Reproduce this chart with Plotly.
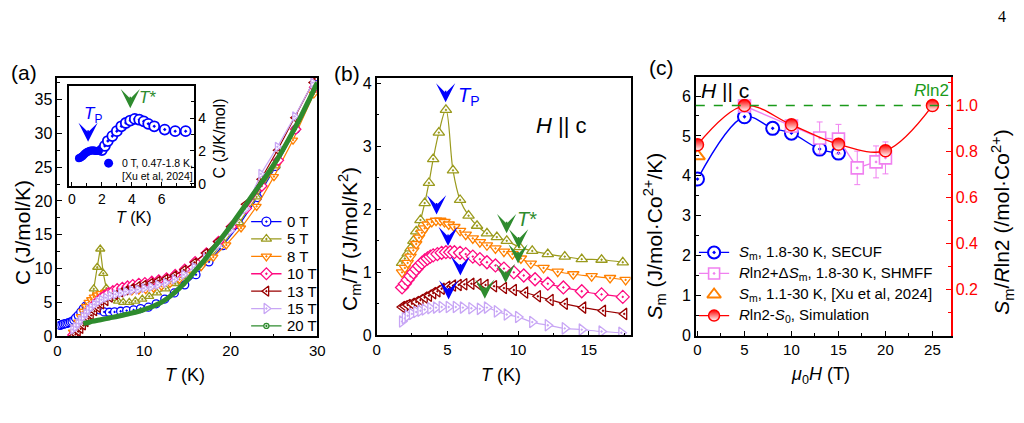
import math
import plotly.graph_objects as go

W, H = 1024, 423
FONT = "Arial, Liberation Sans, sans-serif"

def px(x):
    return x / W

def py(y):
    return 1 - y / H

# ---------------- data: panel (a) main -----------------
T_0T = [0.3,0.5,0.7,0.9,1.1,1.3,1.5,1.7,1.9,2.1,2.4,2.7,3.0,3.3,3.6,4.0,4.4,4.9,5.4,6.0,6.6,7.3,8.0,8.8,9.6,10.5,11.4,12.4,13.5,14.7,16.0,17.5,19.1,21.0,23.1,25.2,27.5,29.8]
C_0T = [1.6,1.7,1.8,1.85,1.9,2.0,2.1,2.2,2.4,2.7,3.1,3.6,4.1,4.5,4.7,4.6,4.3,3.9,3.6,3.55,3.6,3.7,3.8,3.9,4.1,4.3,4.8,5.5,6.4,7.6,9.1,11.0,13.4,16.5,20.5,25.1,30.6,37.2]
T_5T = [1.8,2.1,2.4,2.7,3.0,3.3,3.6,3.9,4.2,4.6,4.95,5.3,5.65,6.0,6.5,7.0,7.6,8.3,9.0,9.8,10.6,11.5,12.5,13.6,14.8,16.2,17.6,19.2,21.0,23.0,25.2,27.5,29.9]
C_5T = [0.3,0.9,1.6,2.4,3.2,4.0,4.7,5.3,7.0,10.2,12.9,9.3,7.1,6.2,5.6,5.2,5.0,5.0,5.2,5.5,5.9,6.4,7.0,7.8,8.8,10.2,11.6,13.8,16.8,20.6,25.2,30.8,37.0]
T_8T = [1.8,2.1,2.4,2.7,3.0,3.3,3.6,3.9,4.2,4.6,5.0,5.5,6.0,6.6,7.2,7.9,8.6,9.4,10.2,11.1,12.0,13.0,14.1,15.3,16.6,18.0,19.5,21.2,23.0,25.0,27.2,29.6]
C_8T = [0.6,1.3,2.1,2.9,3.7,4.4,5.0,5.4,5.8,6.1,6.3,6.5,6.6,6.7,6.7,6.7,6.7,6.8,6.9,7.1,7.4,7.8,8.4,9.2,10.3,11.7,13.5,16.0,19.2,23.6,29.0,35.8]
T_10T = [1.8,2.1,2.4,2.7,3.0,3.3,3.6,3.9,4.2,4.6,5.0,5.4,5.9,6.4,6.9,7.5,8.1,8.7,9.4,10.1,10.9,11.7,12.6,13.6,14.7,15.9,17.2,18.6,20.1,21.8,23.6,25.5,27.5,29.7]
C_10T = [0.2,0.6,1.1,1.7,2.3,2.9,3.5,4.1,4.6,5.1,5.6,6.0,6.4,6.7,7.0,7.2,7.4,7.6,7.8,7.9,8.1,8.3,8.6,9.1,9.9,11.0,12.3,14.0,16.2,18.9,22.2,26.0,30.6,36.8]
T_13T = [1.8,2.1,2.4,2.7,3.0,3.3,3.6,3.9,4.3,4.7,5.1,5.6,6.1,6.7,7.3,7.9,8.6,9.3,10.0,10.8,11.6,12.5,13.5,14.6,15.8,17.1,18.5,20.0,21.7,23.5,25.4,27.4,29.5]
C_13T = [0.0,0.3,0.7,1.1,1.6,2.1,2.6,3.1,3.7,4.2,4.7,5.2,5.7,6.1,6.5,6.8,7.1,7.4,7.6,7.9,8.2,8.5,9.0,9.8,10.9,12.3,14.0,16.2,19.5,23.2,27.5,32.3,37.5]
T_15T = [1.8,2.1,2.4,2.7,3.0,3.3,3.6,3.9,4.3,4.7,5.1,5.6,6.1,6.7,7.3,7.9,8.6,9.3,10.0,10.8,11.6,12.5,13.5,14.6,15.8,17.1,18.5,20.0,21.7,23.5,25.4,27.4,29.5]
C_15T = [1.0,1.4,1.9,2.4,2.9,3.4,3.9,4.3,4.7,5.1,5.4,5.7,6.0,6.2,6.4,6.6,6.8,6.9,7.1,7.3,7.6,7.9,8.4,9.1,10.2,11.6,13.4,15.6,18.8,24.0,28.0,32.5,37.5]
T_20T = [3.0,3.5,4.0,5.0,6.0,7.0,8.0,9.0,10.0,11.0,12.0,13.0,14.0,15.0,16.0,17.0,18.0,19.0,20.0,21.0,22.0,23.0,24.0,25.0,26.0,27.0,28.0,29.0,30.0]
C_20T = [1.9,2.0,2.2,2.45,2.7,2.95,3.25,3.55,3.95,4.4,5.0,5.9,7.0,8.3,9.8,11.3,13.0,14.6,16.3,18.1,19.9,21.7,23.5,25.4,27.5,29.8,32.2,34.8,37.5]
FIELDS_A = ['0 T', '5 T', '8 T', '10 T', '13 T', '15 T', '20 T']

# inset (a)
T_in = [2.0,2.2,2.4,2.7,3.0,3.3,3.6,3.9,4.2,4.5,4.8,5.1,5.5,6.2,6.9,7.6]
C_in = [2.05,2.3,2.6,2.9,3.2,3.5,3.7,3.85,3.95,3.9,3.8,3.65,3.5,3.3,3.2,3.2]
T_xu = [0.47,0.55,0.62,0.7,0.78,0.86,0.94,1.02,1.1,1.18,1.26,1.34,1.42,1.5,1.58,1.66,1.74,1.8]
C_xu = [1.55,1.58,1.62,1.68,1.75,1.82,1.88,1.93,1.97,2.0,2.02,2.03,2.03,2.02,2.0,2.0,2.0,2.0]
INSET_TICKS = [0, 2, 4, 6]

# ---------------- data: panel (b) -----------------
Tb_5 = [1.8,2.0,2.2,2.4,2.6,2.8,3.1,3.4,3.7,4.0,4.4,4.9,5.4,5.9,6.5,7.1,7.8,8.5,9.2,10.1,11.0,12.1,13.3,14.5,15.9,17.4]
Cb_5 = [1.15,1.22,1.3,1.38,1.5,1.65,1.83,2.1,2.42,2.8,3.22,3.58,2.62,2.15,1.9,1.74,1.62,1.56,1.5,1.4,1.34,1.29,1.25,1.21,1.2,1.16]
Tb_8 = [1.8,2.0,2.2,2.4,2.6,2.8,3.0,3.2,3.4,3.6,3.9,4.2,4.5,4.8,5.1,5.5,5.9,6.3,6.8,7.3,7.8,8.4,9.0,9.6,10.2,10.9,11.8,12.8,13.9,15.2,16.5,17.6]
Cb_8 = [1.0,1.07,1.15,1.25,1.35,1.45,1.55,1.63,1.7,1.76,1.8,1.82,1.82,1.8,1.76,1.72,1.66,1.6,1.54,1.48,1.43,1.38,1.33,1.29,1.22,1.14,1.07,1.01,0.97,0.94,0.91,0.88]
Tb_10 = [1.8,2.0,2.2,2.4,2.6,2.8,3.0,3.2,3.4,3.6,3.8,4.0,4.3,4.6,4.9,5.2,5.5,5.9,6.3,6.8,7.3,7.8,8.4,9.0,9.7,10.4,11.2,12.1,13.2,14.5,15.9,17.4]
Cb_10 = [0.76,0.82,0.88,0.94,1.0,1.05,1.1,1.15,1.19,1.22,1.25,1.27,1.29,1.31,1.32,1.32,1.32,1.31,1.29,1.25,1.21,1.16,1.11,1.06,1.0,0.95,0.89,0.82,0.76,0.7,0.65,0.61]
Tb_13 = [1.8,2.0,2.2,2.5,2.8,3.1,3.4,3.7,4.0,4.3,4.6,5.0,5.4,5.8,6.2,6.7,7.2,7.7,8.3,9.0,9.7,10.5,11.4,12.3,13.3,14.6,16.0,17.5]
Cb_13 = [0.45,0.46,0.48,0.5,0.53,0.56,0.6,0.63,0.67,0.7,0.74,0.77,0.79,0.8,0.81,0.82,0.81,0.8,0.78,0.75,0.72,0.68,0.62,0.56,0.5,0.44,0.39,0.34]
Tb_15 = [1.8,2.0,2.2,2.5,2.8,3.1,3.4,3.8,4.2,4.6,5.1,5.6,6.1,6.7,7.3,7.8,8.5,9.2,10.0,11.0,12.1,13.3,14.5,15.9,17.3]
Cb_15 = [0.22,0.27,0.31,0.34,0.37,0.39,0.41,0.43,0.44,0.45,0.45,0.45,0.44,0.43,0.42,0.44,0.38,0.33,0.29,0.21,0.16,0.11,0.09,0.06,0.04]

# arrow marks (tip positions)
TP_b_x = [4.88, 4.24, 5.05, 5.92, 5.09]
TP_b_y = [3.7, 1.92, 1.42, 0.95, 0.57]
TS_b_x = [9.19, 10.04, 10.0, 9.12, 7.65]
TS_b_y = [1.62, 1.38, 1.14, 0.83, 0.58]
TP_in = (1.08, 2.55)
TS_in = (3.9, 4.6)

# ---------------- data: panel (c) -----------------
R_LN2 = 8.314 * math.log(2)
H_secuf = [0, 5, 8, 10, 13, 15]
S_secuf = [3.92, 5.48, 5.19, 5.07, 4.67, 4.57]
H_shmff = [5, 10, 13, 15, 17, 19, 20]
S_shmff = [5.75, 5.25, 4.95, 4.92, 4.2, 4.35, 4.45]
E_shmff = [0.0, 0.0, 0.4, 0.37, 0.42, 0.4, 0.4]
H_xu = [0]
S_xu = [4.5]
H_sim = [0, 5, 10, 15, 20, 25]
S_sim = [4.78, 5.76, 5.28, 4.79, 4.63, 5.76]
LEG_C = ['<i>S</i><sub>m</sub>, 1.8-30 K, SECUF',
         '<i>R</i>ln2+Δ<i>S</i><sub>m</sub>, 1.8-30 K, SHMFF',
         '<i>S</i><sub>m</sub>, 1.1-30 K, [Xu et al, 2024]',
         '<i>R</i>ln2-<i>S</i><sub>0</sub>, Simulation']

C_BLUE = "#0000FF"
C_OLIVE = "#9A9A1C"
C_ORANGE = "#FF8000"
C_PINK = "#FF0A80"
C_DRED = "#990000"
C_LAV = "#C8A6F5"
C_GREEN = "#2E8B2E"
C_VIOLET = "#F080F0"

fig = go.Figure()

def mk(sym, color, size, width=1.3, fill='white'):
    return dict(symbol=sym, size=size, color=fill, line=dict(color=color, width=width))

def series(x, y, color, sym, xa, ya, size=8, shape='linear'):
    fig.add_trace(go.Scatter(
        x=x, y=y, mode='lines+markers', xaxis=xa, yaxis=ya, showlegend=False,
        line=dict(color=color, width=1.2, shape=shape), marker=mk(sym, color, size)))

STYLE_A = [(C_BLUE, 'circle-dot'), (C_OLIVE, 'triangle-up-dot'), (C_ORANGE, 'triangle-down-dot'),
           (C_PINK, 'diamond-dot'), (C_DRED, 'triangle-left-dot'), (C_LAV, 'triangle-right-dot')]

# panel (a) main
for (xx, yy), (col, sym) in zip([(T_0T, C_0T), (T_5T, C_5T), (T_8T, C_8T), (T_10T, C_10T),
                                 (T_13T, C_13T), (T_15T, C_15T)], STYLE_A):
    series(xx, yy, col, sym, 'x', 'y')
fig.add_trace(go.Scatter(x=T_20T, y=C_20T, mode='lines', xaxis='x', yaxis='y',
                         line=dict(color=C_GREEN, width=5, shape='spline'), showlegend=False))

# manual legend (a), drawn on its own hidden axis (x = sample position, y = entry index)
for i, (col, sym) in enumerate(STYLE_A + [(C_GREEN, 'circle-dot')]):
    fig.add_trace(go.Scatter(x=[0, 1], y=[i, i], mode='lines', xaxis='x6', yaxis='y6', showlegend=False,
                             line=dict(color=col, width=1.3)))
    fig.add_trace(go.Scatter(x=[0.5], y=[i], mode='markers', xaxis='x6', yaxis='y6', showlegend=False,
                             marker=mk(sym, col, 5 if i == 6 else 9)))

# inset
fig.add_trace(go.Scatter(x=T_in, y=C_in, mode='markers', xaxis='x5', yaxis='y5', showlegend=False,
                         marker=mk('circle-dot', C_BLUE, 10, 1.8)))
fig.add_trace(go.Scatter(x=T_xu, y=C_xu, mode='markers', xaxis='x5', yaxis='y5', showlegend=False,
                         marker=dict(symbol='circle', size=8, color=C_BLUE)))
fig.add_trace(go.Scatter(x=[2.45], y=[1.25], mode='markers', xaxis='x5', yaxis='y5', showlegend=False,
                         marker=dict(symbol='circle', size=9, color=C_BLUE)))

# panel (b)
for (xx, yy), (col, sym) in zip([(Tb_5, Cb_5), (Tb_8, Cb_8), (Tb_10, Cb_10), (Tb_13, Cb_13), (Tb_15, Cb_15)],
                                STYLE_A[1:]):
    series(xx, yy, col, sym, 'x2', 'y2', size=10, shape='spline')

# panel (c)
RED_MK = dict(symbol='circle', size=12, color='red', line=dict(color='red', width=1.5),
              gradient=dict(type='vertical', color='white'))
fig.add_trace(go.Scatter(x=H_secuf, y=S_secuf, mode='lines+markers', xaxis='x3', yaxis='y3', showlegend=False,
                         line=dict(color=C_BLUE, width=1.4, shape='spline'), marker=mk('circle-dot', C_BLUE, 13, 2)))
fig.add_trace(go.Scatter(x=H_shmff, y=S_shmff, mode='lines+markers', xaxis='x3', yaxis='y3', showlegend=False,
                         line=dict(color=C_VIOLET, width=1.4),
                         error_y=dict(type='data', array=E_shmff, color=C_VIOLET, thickness=1, width=3),
                         marker=mk('square-dot', C_VIOLET, 12, 1.6)))
fig.add_trace(go.Scatter(x=H_xu, y=S_xu, mode='markers', xaxis='x3', yaxis='y3', showlegend=False,
                         marker=mk('triangle-up', C_ORANGE, 13, 2)))
fig.add_trace(go.Scatter(x=H_sim, y=S_sim, mode='lines+markers', xaxis='x3', yaxis='y3', showlegend=False,
                         line=dict(color='red', width=1.4, shape='spline'), marker=RED_MK))
fig.add_trace(go.Scatter(x=[None], y=[None], xaxis='x3', yaxis='y4', showlegend=False))

# manual legend (c)
LEG_C_STYLE = [(C_BLUE, mk('circle-dot', C_BLUE, 12, 2), True),
               (C_VIOLET, mk('square-dot', C_VIOLET, 11, 1.6), True),
               (C_ORANGE, mk('triangle-up', C_ORANGE, 12, 2), False),
               ('red', dict(RED_MK, size=11), True)]
for i, (col, m, has_line) in enumerate(LEG_C_STYLE):
    if has_line:
        fig.add_trace(go.Scatter(x=[0, 1], y=[i, i], mode='lines', xaxis='x7', yaxis='y7', showlegend=False,
                                 line=dict(color=col, width=1.3)))
    fig.add_trace(go.Scatter(x=[0.5], y=[i], mode='markers', xaxis='x7', yaxis='y7', showlegend=False, marker=m))

def axis(**kw):
    d = dict(showline=True, linecolor='black', linewidth=1.5, mirror=True, ticks='inside', ticklen=5,
             tickwidth=1.2, tickcolor='black', showgrid=False, zeroline=False,
             tickfont=dict(size=16, family=FONT, color='black'))
    d.update(kw)
    return d

def minor(dt, color='black'):
    return dict(ticks='inside', ticklen=3, tickwidth=1, tickcolor=color, dtick=dt)

HIDDEN = dict(visible=False, showgrid=False, zeroline=False, fixedrange=True)

layout = dict(
    width=W, height=H, margin=dict(l=0, r=0, t=0, b=0),
    paper_bgcolor='white', plot_bgcolor='rgba(0,0,0,0)',
    font=dict(family=FONT, color='black'), showlegend=False,
    xaxis=axis(domain=[px(54), px(317)], range=[0, 30], dtick=10, anchor='y', minor=minor(5),
               tickfont=dict(size=15, family=FONT)),
    yaxis=axis(domain=[py(343), py(77)], range=[0, 38.2], dtick=5, anchor='x', minor=minor(2.5)),
    xaxis2=axis(domain=[px(377), px(634)], range=[0, 17.95], dtick=5, anchor='y2', minor=minor(2.5),
                tickfont=dict(size=15, family=FONT)),
    yaxis2=axis(domain=[py(342), py(77)], range=[0, 4.09], dtick=1, anchor='x2', minor=minor(0.5)),
    xaxis3=axis(domain=[px(700), px(958)], range=[-0.18, 26.95], dtick=5, anchor='y3', minor=minor(2.5),
                tickfont=dict(size=15, family=FONT)),
    yaxis3=axis(domain=[py(342.3), py(76)], range=[0, 6.48], dtick=1, anchor='x3', mirror=False,
                minor=minor(0.5)),
    yaxis4=axis(overlaying='y3', side='right', anchor='x3', range=[0, 6.48 / R_LN2], mirror=False,
                tickvals=[0.2, 0.4, 0.6, 0.8, 1.0], ticktext=['0.2', '0.4', '0.6', '0.8', '1.0'],
                linecolor='red', tickcolor='red', tickfont=dict(size=16, family=FONT, color='red'),
                minor=dict(ticks='inside', ticklen=3, tickwidth=1, tickcolor='red',
                           tickvals=[0.1, 0.3, 0.5, 0.7, 0.9, 1.1])),
    xaxis5=axis(domain=[px(66), px(192)], range=[-0.18, 8.14], tickvals=INSET_TICKS, anchor='y5', ticklen=4,
                tickfont=dict(size=14, family=FONT), minor=minor(1)),
    yaxis5=axis(domain=[py(188), py(85)], range=[-0.12, 5.98], dtick=2, anchor='x5', side='right', ticklen=4,
                tickfont=dict(size=14, family=FONT), minor=minor(1)),
    xaxis6=dict(HIDDEN, domain=[px(250), px(281)], range=[0, 1], anchor='y6'),
    yaxis6=dict(HIDDEN, domain=[py(341.3), py(216)], range=[6.5, -0.5], anchor='x6'),
    xaxis7=dict(HIDDEN, domain=[px(703), px(734)], range=[0, 1], anchor='y7'),
    yaxis7=dict(HIDDEN, domain=[py(332.5), py(245.9)], range=[3.5, -0.5], anchor='x7'),
)
fig.update_layout(**layout)

# R ln2 reference line
fig.add_shape(type='line', xref='x3 domain', yref='y3', x0=0, x1=1, y0=R_LN2, y1=R_LN2,
              line=dict(color='#1A9A1A', width=1.6, dash='dash'))

ann = []
def txt(x, y, s, size=16, color='black', xref='paper', yref='paper', angle=0, xanchor='center', family=FONT):
    ann.append(dict(x=x, y=y, xref=xref, yref=yref, text=s, showarrow=False, textangle=angle,
                    font=dict(size=size, color=color, family=family), xanchor=xanchor, yanchor='middle'))

def arrow(x, y, color, xref, yref):
    ann.append(dict(x=x, y=y, xref=xref, yref=yref, text='', showarrow=True, arrowhead=3,
                    arrowsize=2.0, arrowwidth=1.6, arrowcolor=color, ax=0, ay=-13,
                    axref='pixel', ayref='pixel'))

# panel labels
txt(px(20), py(72), '(a)', size=21)
txt(px(347), py(73), '(b)', size=21)
txt(px(665), py(66), '(c)', size=21)
txt(px(1010), py(14), '4', size=16, family='Liberation Serif, DejaVu Serif, serif')

# axis titles
txt(px(183), py(383), '<i>T</i> (K)', size=18)
txt(px(503), py(383), '<i>T</i> (K)', size=18)
txt(px(826), py(383), '<i>μ</i><sub>0</sub><i>H</i> (T)', size=18)
txt(px(19), py(236), 'C (J/mol/K)', size=21, angle=-90)
txt(px(349), py(243), 'C<sub>m</sub>/<i>T</i> (J/mol/K<sup>2</sup>)', size=21, angle=-90)
txt(px(658), py(240), '<i>S</i><sub>m</sub> (J/mol·Co<sup>2+</sup>/K)', size=21, angle=-90)
txt(px(1010), py(226), '<i>S</i><sub>m</sub>/<i>R</i>ln2 (/mol·Co<sup>2+</sup>)', size=21, angle=-90)

# legend texts
for i, name in enumerate(FIELDS_A):
    txt(px(284), i, name, size=15, yref='y6', xanchor='left')
for i, name in enumerate(LEG_C):
    txt(px(742), i, name, size=15, yref='y7', xanchor='left')

# inset texts
txt(px(132), py(221), '<i>T</i> (K)', size=16)
txt(px(218), py(139), 'C (J/K/mol)', size=16, angle=-90)
txt(px(117), py(165), '0 T, 0.47-1.8 K,', size=10.5, xanchor='left')
txt(px(117), py(178), '[Xu et al, 2024]', size=10.5, xanchor='left')
txt(1.4, 4.2, '<i>T</i><sub>P</sub>', size=17, color=C_BLUE, xref='x5', yref='y5')
txt(5.07, 5.27, '<i>T</i>*', size=17, color=C_GREEN, xref='x5', yref='y5')
arrow(TP_in[0], TP_in[1], C_BLUE, 'x5', 'y5')
arrow(TS_in[0], TS_in[1], C_GREEN, 'x5', 'y5')

# panel (b) texts
txt(6.56, 3.8, '<i>T</i><sub>P</sub>', size=20, color=C_BLUE, xref='x2', yref='y2')
txt(10.6, 1.85, '<i>T</i>*', size=20, color=C_GREEN, xref='x2', yref='y2')
txt(13.1, 3.33, '<i>H</i> || c', size=22, xref='x2', yref='y2')
for xx, yy in zip(TP_b_x, TP_b_y):
    arrow(xx, yy, C_BLUE, 'x2', 'y2')
for xx, yy in zip(TS_b_x, TS_b_y):
    arrow(xx, yy, C_GREEN, 'x2', 'y2')

# panel (c) texts
txt(2.9, 6.14, '<i>H</i> || c', size=21, xref='x3', yref='y3')
txt(24.9, 6.14, '<i>R</i>ln2', size=17, color='#1A9A1A', xref='x3', yref='y3')

fig.update_layout(annotations=ann)
fig.write_html("out.html")
